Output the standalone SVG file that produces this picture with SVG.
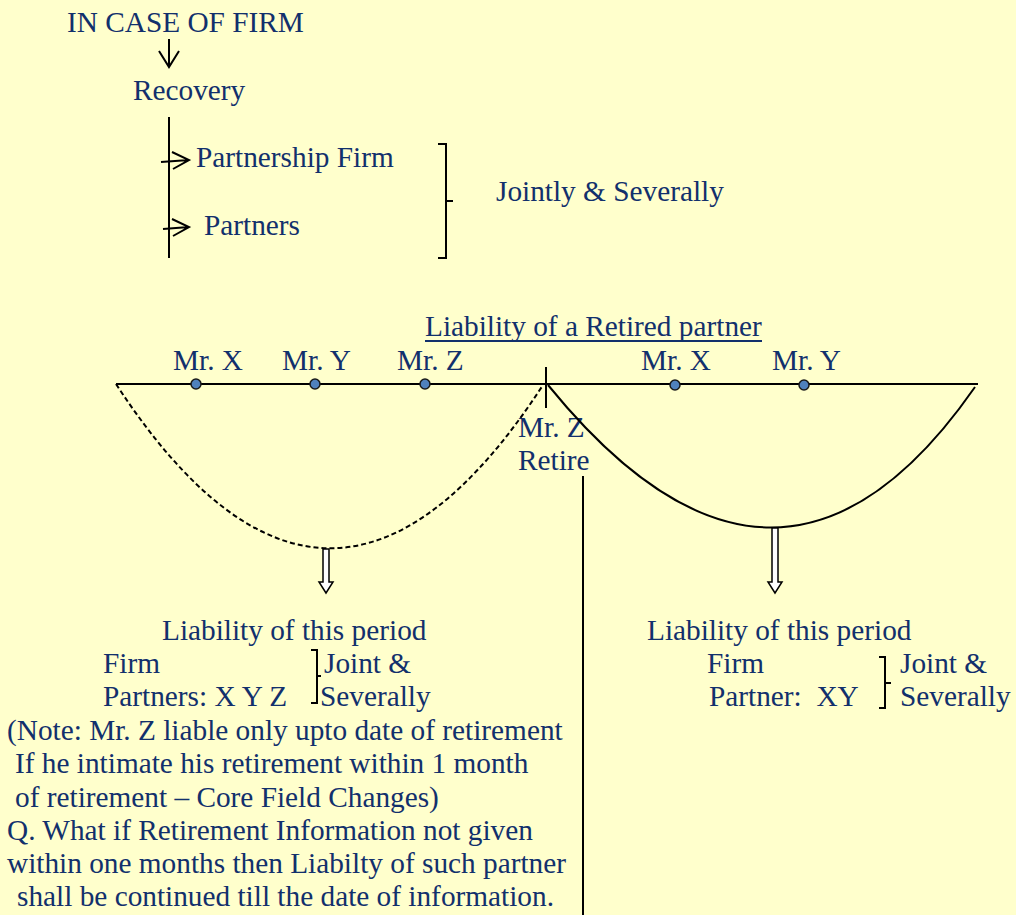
<svg xmlns="http://www.w3.org/2000/svg" width="1016" height="915" viewBox="0 0 1016 915">
  <style>
    .t { font-family: "Liberation Serif", "Times New Roman", serif; font-size: 29.3px; fill: #12306c; }
    .ln { fill: none; stroke: #000; stroke-width: 2; }
    .dot { fill: #4f81bd; stroke: #1a1a1a; stroke-width: 1.5; }
    .dbl { fill: #ffffff; stroke: #000; stroke-width: 1.5; }
  </style>
  <rect width="1016" height="915" fill="#ffffcc"/>

  <!-- top heading and recovery branch -->
  <g id="heading">
    <text class="t" x="67" y="32">IN CASE OF FIRM</text>
  </g>
  <g id="recovery">
    <text class="t" x="133" y="100">Recovery</text>
  </g>
  <g id="partnership-firm">
    <text class="t" x="196" y="167">Partnership Firm</text>
  </g>
  <g id="partners">
    <text class="t" x="204" y="235">Partners</text>
  </g>
  <g id="jointly-severally">
    <path class="ln" d="M438 144 H446 V258 H438 M446 201 H453"/>
    <text class="t" x="496" y="201">Jointly &amp; Severally</text>
  </g>

  <!-- timeline of a retired partner -->
  <g id="title">
    <text class="t" x="425" y="336">Liability of a Retired partner</text>
    <line x1="425" y1="341" x2="762" y2="341" stroke="#12306c" stroke-width="2"/>
  </g>
  <g id="partners-before">
    <text class="t" x="173" y="370">Mr. X</text>
    <text class="t" x="282" y="370">Mr. Y</text>
    <text class="t" x="397" y="370">Mr. Z</text>
  </g>
  <g id="partners-after">
    <text class="t" x="641" y="370">Mr. X</text>
    <text class="t" x="772" y="370">Mr. Y</text>
  </g>
  <g id="retire">
    <text class="t" x="518" y="437">Mr. Z</text>
    <text class="t" x="518" y="470">Retire</text>
  </g>

  <g id="period-left">
    <text class="t" x="162" y="640">Liability of this period</text>
    <text class="t" x="103" y="673">Firm</text>
    <text class="t" x="103" y="706">Partners: X Y Z</text>
    <path class="ln" d="M311 650 H317 V703 H311 M317 676 H321"/>
    <text class="t" x="324" y="673">Joint &amp;</text>
    <text class="t" x="320" y="706">Severally</text>
  </g>
  <g id="period-right">
    <text class="t" x="647" y="640">Liability of this period</text>
    <text class="t" x="707" y="673">Firm</text>
    <text class="t" x="709" y="706" xml:space="preserve">Partner:  XY</text>
    <path class="ln" d="M879 657 H885 V708 H879 M885 683 H891"/>
    <text class="t" x="900" y="673">Joint &amp;</text>
    <text class="t" x="900" y="706">Severally</text>
  </g>

  <g id="note">
    <text class="t" x="7" y="740">(Note: Mr. Z liable only upto date of retirement</text>
    <text class="t" x="15" y="773">If he intimate his retirement within 1 month</text>
    <text class="t" x="15" y="807">of retirement – Core Field Changes)</text>
    <text class="t" x="7" y="840">Q. What if Retirement Information not given</text>
    <text class="t" x="7" y="873">within one months then Liabilty of such partner</text>
    <text class="t" x="17" y="906">shall be continued till the date of information.</text>
  </g>

  <g id="connectors">
    <!-- heading to recovery -->
    <line class="ln" x1="169" y1="39" x2="169" y2="67"/>
    <path class="ln" d="M159 51 L169 67 L179 51"/>
    <!-- recovery spine and branches -->
    <line class="ln" x1="169" y1="117" x2="169" y2="258"/>
    <path class="ln" d="M161 162 L189 160 M172 152 L189 160 L173 169"/>
    <path class="ln" d="M163 229 L189 227 M172 219 L189 227 L173 236"/>

    <!-- timeline -->
    <line class="ln" x1="116" y1="384" x2="978" y2="384"/>
    <line class="ln" x1="546" y1="367" x2="546" y2="408"/>
    <path class="ln" d="M116 384 Q330 712 543 385" stroke-dasharray="5 3" stroke-width="1.6"/>
    <path class="ln" d="M548 385 Q779 669 975 387"/>
    <line class="ln" x1="583" y1="476" x2="583" y2="915"/>

    <!-- hollow double arrows -->
    <path class="dbl" d="M323 549 H329 V582 H333 L326 593 L319 582 H323 Z"/>
    <path class="dbl" d="M772 528 H778 V582 H782 L775 593 L768 582 H772 Z"/>
  </g>

  <g id="markers">
    <circle class="dot" cx="196" cy="384" r="5"/>
    <circle class="dot" cx="315" cy="384" r="5"/>
    <circle class="dot" cx="425" cy="384" r="5"/>
    <circle class="dot" cx="675" cy="385" r="5"/>
    <circle class="dot" cx="804" cy="385" r="5"/>
  </g>
</svg>
